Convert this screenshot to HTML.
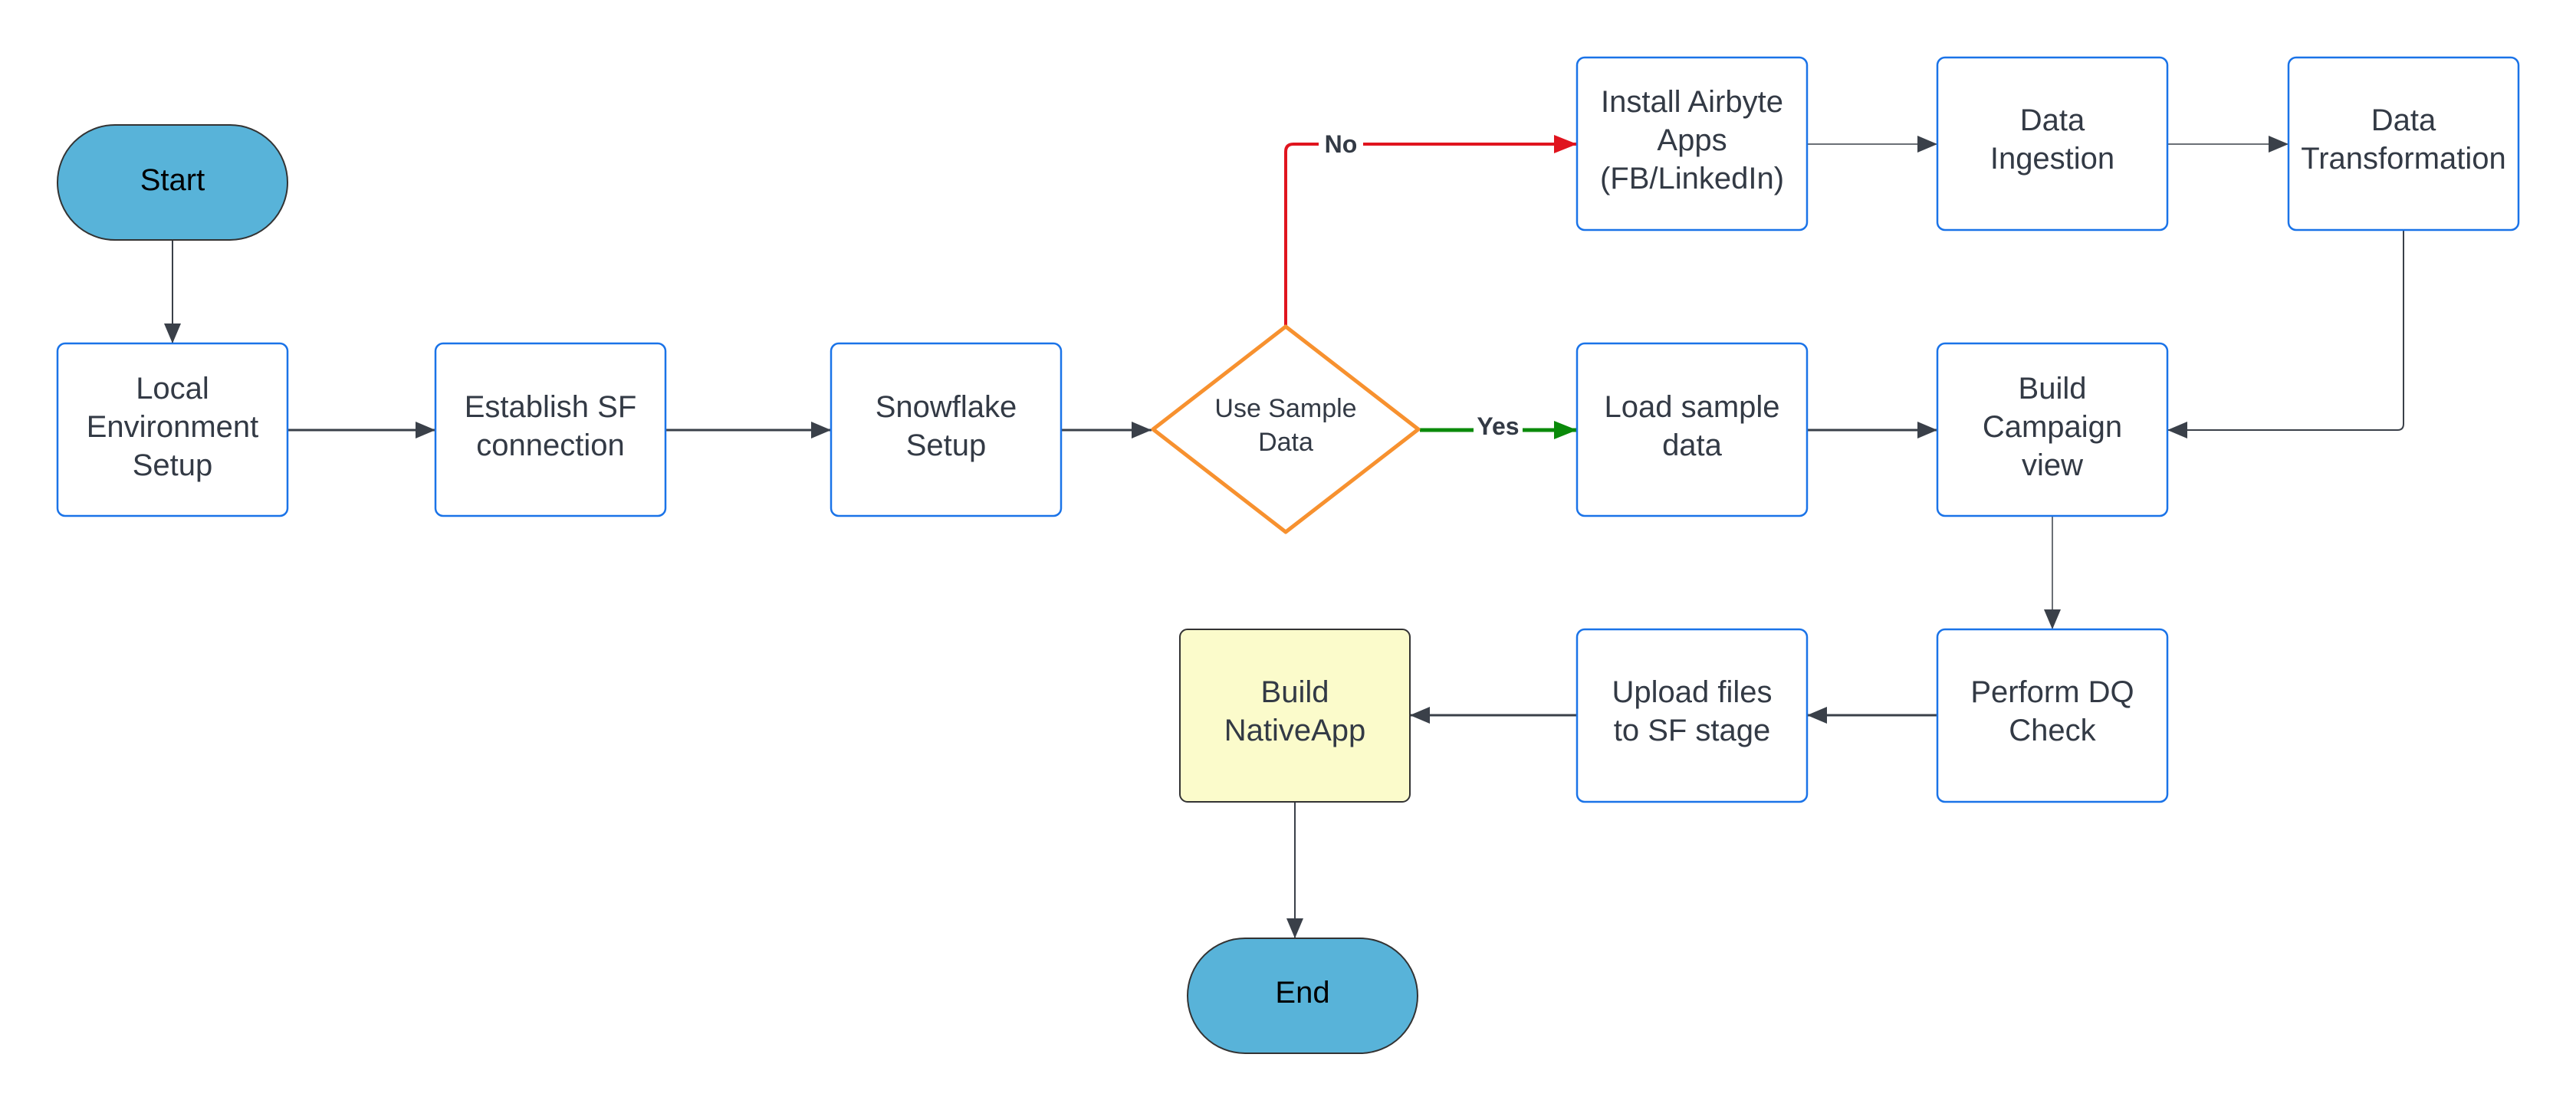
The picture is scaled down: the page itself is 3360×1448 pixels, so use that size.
<!DOCTYPE html>
<html><head><style>html,body{margin:0;padding:0;background:#fff}svg{display:block}</style></head>
<body>
<svg width="3360" height="1448" viewBox="0 0 3360 1448" xmlns="http://www.w3.org/2000/svg" font-family="Liberation Sans, sans-serif">
<defs>
<marker id="ad" markerWidth="10" markerHeight="10" refX="9" refY="5" orient="auto" markerUnits="userSpaceOnUse" viewBox="0 0 10 10"><path d="M0,0 L10,5 L0,10 z" fill="#3a4049"/></marker>
<marker id="a" viewBox="0 0 10 10" refX="10" refY="5" markerWidth="26" markerHeight="22" orient="auto" markerUnits="userSpaceOnUse" preserveAspectRatio="none"><path d="M0,0 L10,5 L0,10 z" fill="#3a4049"/></marker>
<marker id="ar" viewBox="0 0 10 10" refX="10" refY="5" markerWidth="30" markerHeight="24" orient="auto" markerUnits="userSpaceOnUse" preserveAspectRatio="none"><path d="M0,0 L10,5 L0,10 z" fill="#e0141e"/></marker>
<marker id="ag" viewBox="0 0 10 10" refX="10" refY="5" markerWidth="30" markerHeight="24" orient="auto" markerUnits="userSpaceOnUse" preserveAspectRatio="none"><path d="M0,0 L10,5 L0,10 z" fill="#0a8a0a"/></marker>
</defs>
<g fill="none" stroke="#3a4049">
<path d="M225,313 V448" stroke-width="2" marker-end="url(#a)"/>
<path d="M375,561 H568" stroke-width="3" marker-end="url(#a)"/>
<path d="M868,561 H1084" stroke-width="3" marker-end="url(#a)"/>
<path d="M1384,561 H1502" stroke-width="3" marker-end="url(#a)"/>
<path d="M2357,188 H2527" stroke-width="1.5" marker-end="url(#a)"/>
<path d="M2827,188 H2985" stroke-width="1.5" marker-end="url(#a)"/>
<path d="M3135,300 V553 Q3135,561 3127,561 H2827" stroke-width="2" marker-end="url(#a)"/>
<path d="M2357,561 H2527" stroke-width="3" marker-end="url(#a)"/>
<path d="M2677,673 V821" stroke-width="1.5" marker-end="url(#a)"/>
<path d="M2527,933 H2357" stroke-width="3" marker-end="url(#a)"/>
<path d="M2057,933 H1839" stroke-width="3" marker-end="url(#a)"/>
<path d="M1689,1046 V1224" stroke-width="2" marker-end="url(#a)"/>
<path d="M1677,426 V198 Q1677,188 1687,188 H2057" stroke="#e0141e" stroke-width="4" marker-end="url(#ar)"/>
<path d="M1852,561 H2057" stroke="#0a8a0a" stroke-width="5" marker-end="url(#ag)"/>
</g>
<rect x="1720" y="168" width="58" height="40" fill="#fff"/>
<text x="1749" y="199" font-size="32" font-weight="bold" fill="#333a45" text-anchor="middle">No</text>
<rect x="1922" y="540" width="64" height="40" fill="#fff"/>
<text x="1954" y="567" font-size="32" font-weight="bold" fill="#333a45" text-anchor="middle">Yes</text>

<g stroke="#333" stroke-width="2" fill="#58b3d9">
<rect x="75" y="163" width="300" height="150" rx="75"/>
<rect x="1549" y="1224" width="300" height="150" rx="75"/>
</g>
<g fill="#fff" stroke="#1a73e8" stroke-width="2.5">
<rect x="75" y="448" width="300" height="225" rx="10"/>
<rect x="568" y="448" width="300" height="225" rx="10"/>
<rect x="1084" y="448" width="300" height="225" rx="10"/>
<rect x="2057" y="75" width="300" height="225" rx="10"/>
<rect x="2527" y="75" width="300" height="225" rx="10"/>
<rect x="2985" y="75" width="300" height="225" rx="10"/>
<rect x="2057" y="448" width="300" height="225" rx="10"/>
<rect x="2527" y="448" width="300" height="225" rx="10"/>
<rect x="2527" y="821" width="300" height="225" rx="10"/>
<rect x="2057" y="821" width="300" height="225" rx="10"/>
</g>
<rect x="1539" y="821" width="300" height="225" rx="10" fill="#fbfbcb" stroke="#333" stroke-width="2"/>
<path d="M1677,426 L1850,560 L1677,694 L1504,560 Z" fill="#fff" stroke="#f7912f" stroke-width="5" stroke-linejoin="round"/>

<g font-size="40" fill="#333a45" text-anchor="middle">
<text x="225" y="248" fill="#000">Start</text>
<text x="1699" y="1308" fill="#000">End</text>
<text x="225" y="520">Local</text><text x="225" y="570">Environment</text><text x="225" y="620">Setup</text>
<text x="718" y="544">Establish SF</text><text x="718" y="594">connection</text>
<text x="1234" y="544">Snowflake</text><text x="1234" y="594">Setup</text>
<text x="2207" y="146">Install Airbyte</text><text x="2207" y="196">Apps</text><text x="2207" y="246">(FB/LinkedIn)</text>
<text x="2677" y="170">Data</text><text x="2677" y="220">Ingestion</text>
<text x="3135" y="170">Data</text><text x="3135" y="220">Transformation</text>
<text x="2207" y="544">Load sample</text><text x="2207" y="594">data</text>
<text x="2677" y="520">Build</text><text x="2677" y="570">Campaign</text><text x="2677" y="620">view</text>
<text x="2677" y="916">Perform DQ</text><text x="2677" y="966">Check</text>
<text x="2207" y="916">Upload files</text><text x="2207" y="966">to SF stage</text>
<text x="1689" y="916">Build</text><text x="1689" y="966">NativeApp</text>
<text x="1677" y="544" font-size="34">Use Sample</text><text x="1677" y="588" font-size="34">Data</text>
</g>
</svg>
</body></html>
